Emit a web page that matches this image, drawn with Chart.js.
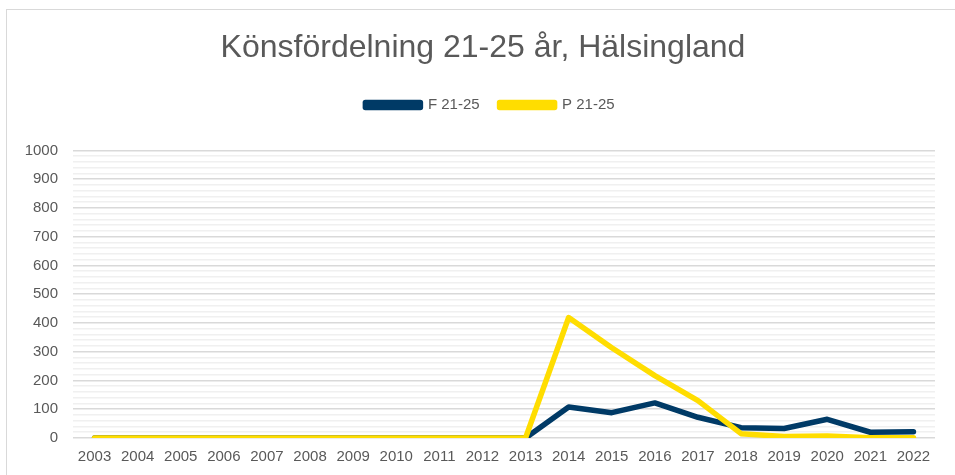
<!DOCTYPE html>
<html>
<head>
<meta charset="utf-8">
<script src="https://cdn.jsdelivr.net/npm/chart.js@4/dist/chart.umd.min.js"></script>
<style>
  html, body { margin: 0; padding: 0; background: #fff; overflow: hidden; }
  #box {
    position: absolute; left: 6px; top: 9px;
    width: 955px; height: 470px;
    border: 1px solid #d9d9d9; background: #fff;
  }
</style>
</head>
<body>
<div id="box"><canvas id="chart"></canvas></div>
<script>
const years = ["2003","2004","2005","2006","2007","2008","2009","2010","2011","2012",
               "2013","2014","2015","2016","2017","2018","2019","2020","2021","2022"];
const fValues = [0,0,0,0,0,0,0,0,0,0, 0,108,88,122,72,36,33,65,20,22];
const pValues = [0,0,0,0,0,0,0,0,0,0, 0,419,314,217,130,15,5,7,1,1];
const yMax = 1000;
const yStep = 20;

const textColor = "#595959";
const font = "'Liberation Sans', Arial, sans-serif";

// extra room between legend and plot area, and nudge title/legend to the right
const headerTweak = {
  id: "headerTweak",
  beforeInit(chart) {
    const fit = chart.legend.fit;
    chart.legend.fit = function () {
      fit.bind(chart.legend)();
      this.height += 28;
    };
  },
  afterLayout(chart) {
    chart.titleBlock.left += 7;
    chart.titleBlock.right += 7;
    chart.legend.left += 14;
    chart.legend.right += 14;
  }
};

new Chart(document.getElementById("chart"), {
  type: "line",
  data: {
    labels: years,
    datasets: [
      { label: "F 21-25", data: fValues, borderColor: "#003a66", backgroundColor: "#003a66", order: 1 },
      { label: "P 21-25", data: pValues, borderColor: "#ffdd00", backgroundColor: "#ffdd00", order: 0 }
    ]
  },
  plugins: [headerTweak],
  options: {
    responsive: true,
    maintainAspectRatio: false,
    animation: false,
    layout: { padding: { top: 19, left: 10, right: 27, bottom: 4 } },
    elements: {
      line: { borderWidth: 5.5, tension: 0, borderCapStyle: "round", borderJoinStyle: "round" },
      point: { radius: 0 }
    },
    plugins: {
      title: {
        display: true,
        text: "Könsfördelning 21-25 år, Hälsingland",
        color: textColor,
        font: { family: font, size: 32, weight: "normal" },
        padding: { top: 0, bottom: 10 }
      },
      legend: {
        position: "top",
        labels: {
          color: textColor,
          font: { family: font, size: 15 },
          boxWidth: 55,
          boxHeight: 5,
          padding: 20,
          sort: (a, b) => a.datasetIndex - b.datasetIndex
        }
      },
      tooltip: { enabled: false }
    },
    scales: {
      x: {
        offset: true,
        grid: { display: false, drawTicks: false },
        border: { display: false },
        ticks: { color: textColor, font: { family: font, size: 15 }, maxRotation: 0, autoSkip: false, padding: 10 }
      },
      y: {
        min: 0,
        max: yMax,
        border: { display: false },
        afterFit: scale => { scale.width = 56; },
        grid: {
          drawTicks: false,
          color: ctx => (ctx.tick && ctx.tick.value % 100 === 0) ? "#d9d9d9" : "#f0f0f0",
          lineWidth: 1.6
        },
        ticks: {
          stepSize: yStep,
          autoSkip: false,
          padding: 15,
          color: textColor,
          font: { family: font, size: 15 },
          callback: v => (v % 100 === 0 ? v : "")
        }
      }
    }
  }
});
</script>
</body>
</html>
